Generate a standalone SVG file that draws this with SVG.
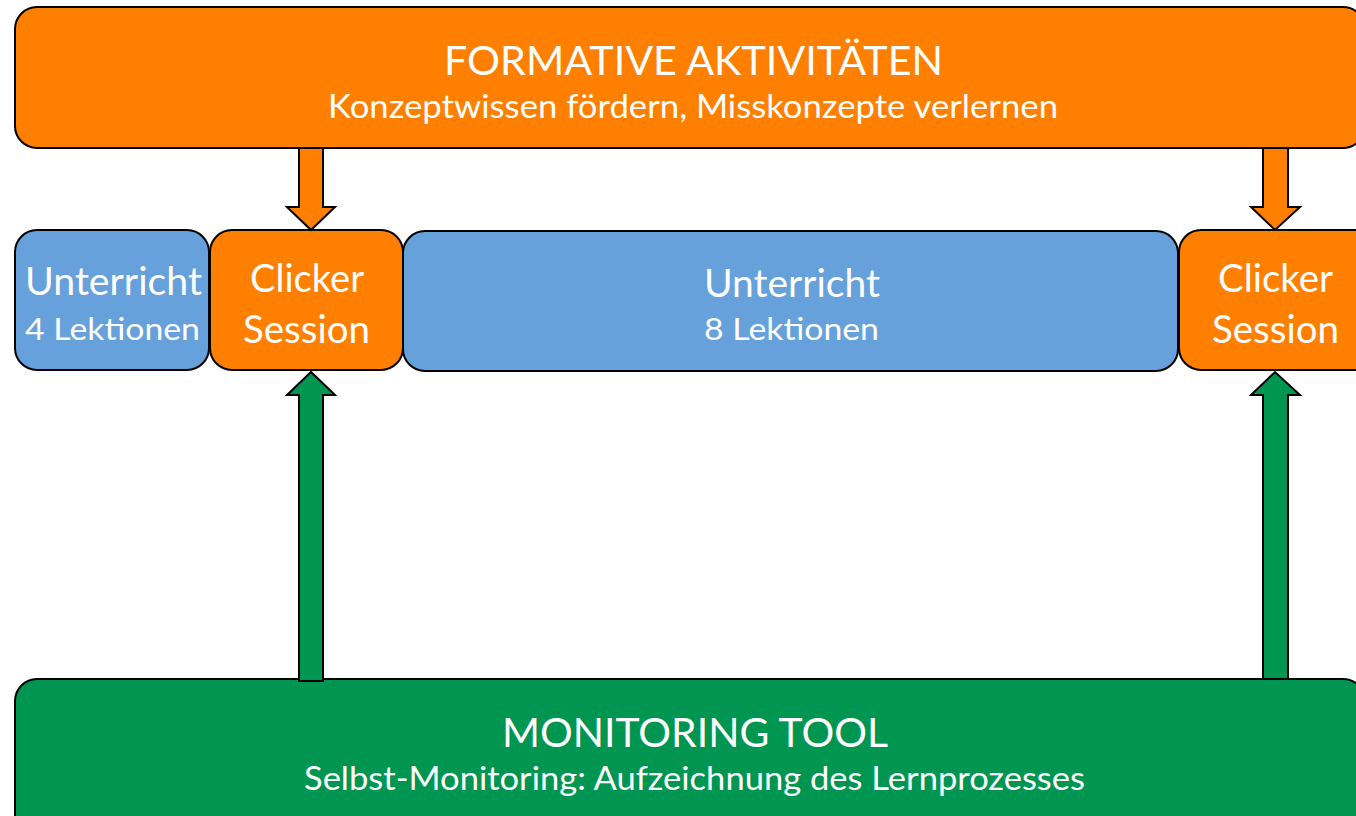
<svg xmlns="http://www.w3.org/2000/svg" width="1356" height="816" viewBox="0 0 1356 816">
  <style>
    .box { stroke: #000; stroke-width: 2; }
    .orange { fill: #FF7F00; }
    .blue { fill: #66A1DC; }
    .green { fill: #009651; }
    .arrow { stroke: #000; stroke-width: 2; stroke-linejoin: miter; }
    text { font-family: "Lato", "Open Sans", sans-serif; fill: #fff; text-anchor: middle; }
    .title { font-size: 41px; }
    .sub { font-size: 33px; }
    .big { font-size: 38px; }
    .small { font-size: 31px; }
  </style>
  <rect width="1356" height="816" fill="#fff"/>

  <g id="formative">
    <rect class="box orange" x="15" y="7" width="1350" height="141" rx="22"/>
    <text class="title" x="693.5" y="75" textLength="499" lengthAdjust="spacingAndGlyphs">FORMATIVE AKTIVITÄTEN</text>
    <text class="sub" x="693" y="118" textLength="730" lengthAdjust="spacingAndGlyphs">Konzeptwissen fördern, Misskonzepte verlernen</text>
  </g>

  <g id="monitoring">
    <rect class="box green" x="15" y="679" width="1350" height="160" rx="22"/>
    <text class="title" x="695" y="747" textLength="386" lengthAdjust="spacingAndGlyphs">MONITORING TOOL</text>
    <text class="sub" x="694.5" y="790" textLength="781" lengthAdjust="spacingAndGlyphs">Selbst-Monitoring: Aufzeichnung des Lernprozesses</text>
  </g>

  <g id="unterricht1">
    <rect class="box blue" x="15" y="230" width="194" height="140" rx="22"/>
    <text class="big" x="113.5" y="295" textLength="177" lengthAdjust="spacingAndGlyphs">Unterricht</text>
    <text class="small" x="112.5" y="340" textLength="175" lengthAdjust="spacingAndGlyphs">4 Lektionen</text>
  </g>

  <g id="clicker1">
    <rect class="box orange" x="210" y="230" width="193" height="140" rx="22"/>
    <text class="big" x="307" y="292" textLength="114" lengthAdjust="spacingAndGlyphs">Clicker</text>
    <text class="big" x="306.5" y="343" textLength="127" lengthAdjust="spacingAndGlyphs">Session</text>
  </g>

  <g id="unterricht2">
    <rect class="box blue" x="403" y="231" width="775" height="140" rx="22"/>
    <text class="big" x="792" y="297" textLength="176" lengthAdjust="spacingAndGlyphs">Unterricht</text>
    <text class="small" x="791.5" y="340" textLength="175" lengthAdjust="spacingAndGlyphs">8 Lektionen</text>
  </g>

  <g id="clicker2">
    <rect class="box orange" x="1179" y="230" width="200" height="140" rx="22"/>
    <text class="big" x="1275.5" y="292" textLength="115" lengthAdjust="spacingAndGlyphs">Clicker</text>
    <text class="big" x="1275.5" y="343" textLength="127" lengthAdjust="spacingAndGlyphs">Session</text>
  </g>

  <g id="connectors">
    <!-- block arrows from the formative activities down to the clicker sessions -->
    <path class="arrow orange" d="M299,148 L323,148 L323,207 L335,207 L311,230 L287,207 L299,207 Z"/>
    <path class="arrow orange" d="M1263,148 L1288,148 L1288,207 L1300,207 L1275,230 L1251,207 L1263,207 Z"/>
    <!-- block arrows from the monitoring tool up to the clicker sessions -->
    <path class="arrow green" d="M299,681 L323,681 L323,395 L335,395 L311,372 L287,395 L299,395 Z"/>
    <path class="arrow green" d="M1263,679 L1288,679 L1288,395 L1300,395 L1275,372 L1251,395 L1263,395 Z"/>
  </g>
</svg>
